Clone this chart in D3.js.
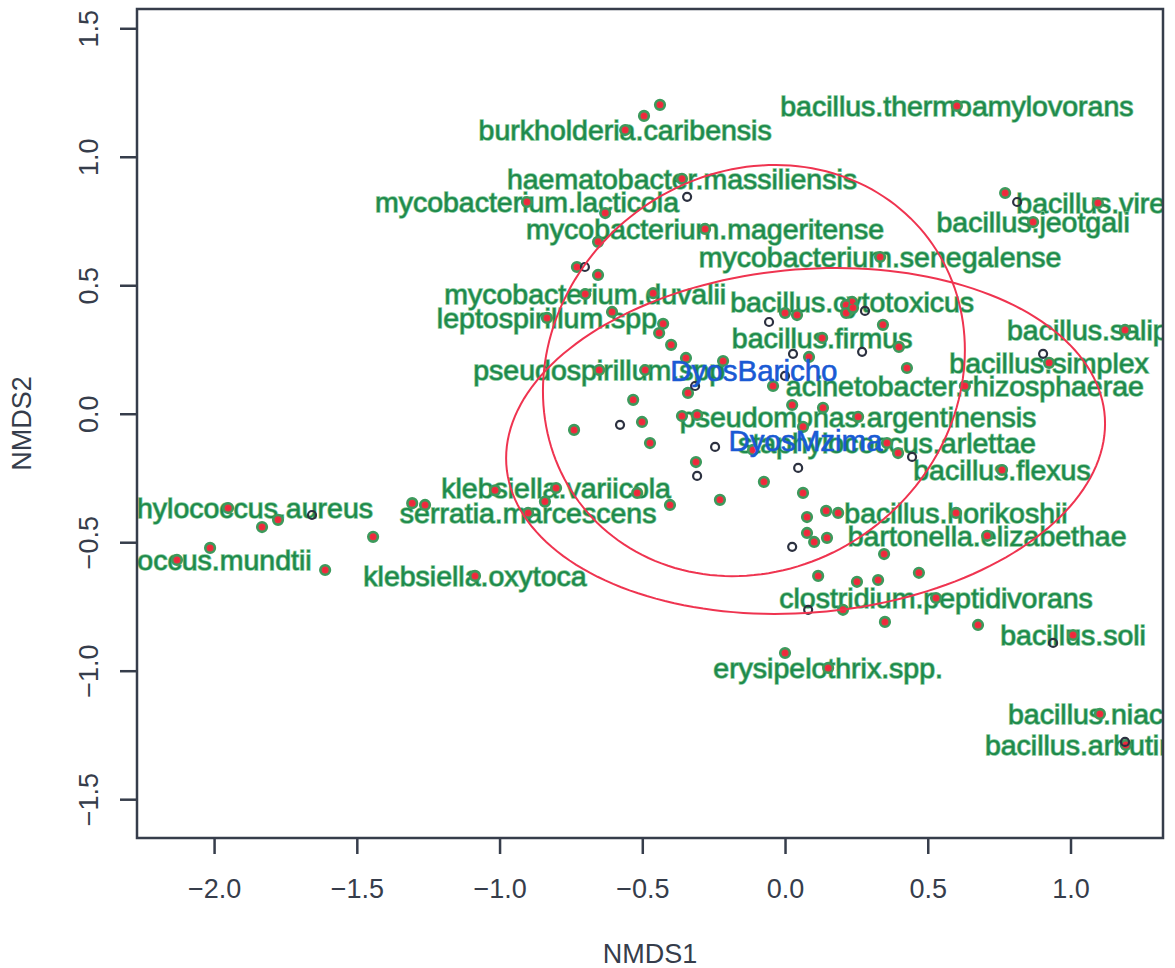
<!DOCTYPE html>
<html>
<head>
<meta charset="utf-8">
<script src="https://cdn.jsdelivr.net/npm/d3@7"></script>
<style>
  html, body { margin: 0; padding: 0; background: #ffffff; }
  svg { display: block; }
  text { font-family: "Liberation Sans", Arial, Helvetica, sans-serif; }
</style>
</head>
<body>
<svg id="chart" width="1175" height="968"></svg>
<script>
// ---- NMDS scores: labelled species ----
const labelNames = [
  "burkholderia.caribensis", "bacillus.thermoamylovorans", "haematobacter.massiliensis",
  "mycobacterium.lacticola", "mycobacterium.mageritense", "mycobacterium.senegalense",
  "bacillus.vireti", "bacillus.jeotgali", "bacillus.cytotoxicus", "bacillus.salipaludis",
  "bacillus.firmus", "bacillus.simplex", "mycobacterium.duvalii", "leptospirillum.spp",
  "pseudospirillum.spp", "acinetobacter.rhizosphaerae", "pseudomonas.argentinensis",
  "staphylococcus.arlettae", "bacillus.flexus", "bacillus.horikoshii", "bartonella.elizabethae",
  "klebsiella.variicola", "serratia.marcescens", "staphylococcus.aureus", "enterococcus.mundtii",
  "klebsiella.oxytoca", "clostridium.peptidivorans", "bacillus.soli", "erysipelothrix.spp.",
  "bacillus.niacini", "bacillus.arbutinivorans"
];
const labelX = [
  -0.560, 0.602, -0.361, -0.904, -0.280, 0.333, 1.096, 0.869, 0.235, 1.191,
  0.130, 0.925, -0.700, -0.834, -0.651, 0.630, 0.256, 0.357, 0.760, 0.599, 0.708,
  -0.802, -0.900, -1.951, -2.130, -1.086, 0.529, 1.009, 0.151, 1.103, 1.194
];
const labelY = [
  1.104, 1.198, 0.914, 0.824, 0.719, 0.610, 0.820, 0.746, 0.435, 0.326,
  0.295, 0.198, 0.466, 0.373, 0.170, 0.108, -0.012, -0.114, -0.219, -0.386, -0.475,
  -0.289, -0.386, -0.367, -0.569, -0.631, -0.717, -0.861, -0.989, -1.168, -1.289
];

// ---- NMDS scores: remaining species ----
const otherX = [
  -0.438, -0.494, -0.630, -0.655, -0.729, -0.655, 0.771, -0.606, -0.462, -0.427,
  -0.441, -0.399, -0.347, -0.217, 0.000, 0.042, 0.214, 0.214, 0.238, 0.343,
  0.084, 0.399, 0.427, -0.042, 0.025, 0.133, 0.063, -0.490, -0.340, -0.532,
  -0.501, -0.739, -0.473, -0.361, -0.308, -0.312, 0.396, -0.112, -0.074, -0.228,
  -0.403, 0.063, 0.077, 0.144, 0.186, 0.077, 0.102, 0.147, 0.347, 0.116,
  0.252, 0.326, 0.469, 0.203, 0.350, 0.676, 0.000, -0.518, -0.841, -1.016,
  -1.261, -1.306, -1.832, -1.776, -2.014, -1.443, -1.611
];
const otherY = [
  1.202, 1.159, 0.781, 0.669, 0.571, 0.540, 0.859, 0.396, 0.469, 0.350,
  0.314, 0.268, 0.217, 0.205, 0.392, 0.384, 0.423, 0.392, 0.412, 0.346,
  0.221, 0.260, 0.178, 0.108, 0.034, 0.023, -0.051, 0.170, 0.081, 0.054,
  -0.032, -0.063, -0.114, -0.009, -0.005, -0.188, -0.153, -0.141, -0.265, -0.335,
  -0.355, -0.308, -0.402, -0.378, -0.386, -0.464, -0.499, -0.483, -0.546, -0.631,
  -0.654, -0.647, -0.619, -0.763, -0.810, -0.822, -0.931, -0.308, -0.342, -0.298,
  -0.355, -0.348, -0.441, -0.413, -0.522, -0.479, -0.608
];

// ---- NMDS scores: sites ----
const siteX = [
  -0.343, -0.701, -0.056, 0.028, 0.270, 0.280, 0.000, -0.315, -0.578, -0.245,
  -0.308, 0.046, 0.445, 0.025, 0.081, 0.904, 0.813, 0.939, -1.657, 1.191
];
const siteY = [
  0.844, 0.571, 0.357, 0.233, 0.241, 0.400, 0.147, 0.108, -0.043, -0.129,
  -0.242, -0.211, -0.168, -0.518, -0.763, 0.233, 0.824, -0.892, -0.394, -1.277
];

// ---- group ellipses (centre, spread along each axis, correlation) ----
const groupNames = ["DyosBaricho", "DyosMzima"];
const groupCX = [-0.109, 0.072];
const groupCY = [0.168, -0.106];
const groupSX = [0.739, 1.049];
const groupSY = [0.800, 0.673];
const groupR  = [0.10, 0.10];

// ---- axes ----
const xTicks = [-2.0, -1.5, -1.0, -0.5, 0.0, 0.5, 1.0];
const yTicks = [-1.5, -1.0, -0.5, 0.0, 0.5, 1.0, 1.5];
const xTitle = "NMDS1";
const yTitle = "NMDS2";

// ---- layout ----
const plot = { left: 137, right: 1163, top: 9, bottom: 838 };
const axisColor = "#363d4b";
const textGreen = "#1f8a4c";

const svg = d3.select("#chart");
const x = d3.scaleLinear().domain([-2.27, 1.324]).range([plot.left, plot.right]);
const y = d3.scaleLinear().domain([-1.651, 1.575]).range([plot.bottom, plot.top]);

svg.append("defs").append("clipPath").attr("id", "plotClip")
  .append("rect")
  .attr("x", plot.left).attr("y", plot.top)
  .attr("width", plot.right - plot.left).attr("height", plot.bottom - plot.top);

const inner = svg.append("g").attr("clip-path", "url(#plotClip)");

// species labels
inner.append("g").selectAll("text")
  .data(labelNames)
  .join("text")
  .attr("x", (d, i) => x(labelX[i]))
  .attr("y", (d, i) => y(labelY[i]))
  .attr("dy", "0.35em")
  .attr("text-anchor", "middle")
  .attr("font-size", 28.5)
  .attr("fill", textGreen)
  .attr("stroke", "#79c592")
  .attr("stroke-width", 1.4)
  .attr("paint-order", "stroke")
  .text(d => d);

// species points: green ring with red centre
const speciesPts = labelX.map((v, i) => [v, labelY[i]])
  .concat(otherX.map((v, i) => [v, otherY[i]]));
const sp = inner.append("g");
sp.selectAll("circle.ring")
  .data(speciesPts)
  .join("circle")
  .attr("class", "ring")
  .attr("cx", d => x(d[0])).attr("cy", d => y(d[1]))
  .attr("r", 4.8)
  .attr("fill", "#e8333f")
  .attr("stroke", "#3c9a5c")
  .attr("stroke-width", 2.6);
sp.selectAll("circle.dot")
  .data(speciesPts)
  .join("circle")
  .attr("class", "dot")
  .attr("cx", d => x(d[0])).attr("cy", d => y(d[1]))
  .attr("r", 2.4)
  .attr("fill", "#f0283c");

// sites: open dark circles
inner.append("g").selectAll("circle")
  .data(siteX)
  .join("circle")
  .attr("cx", (d, i) => x(d)).attr("cy", (d, i) => y(siteY[i]))
  .attr("r", 4)
  .attr("fill", "none")
  .attr("stroke", "#2c3140")
  .attr("stroke-width", 2.2);

// group ellipses
const line = d3.line().curve(d3.curveLinearClosed);
const steps = d3.range(0, 2 * Math.PI, Math.PI / 90);
groupNames.forEach((g, k) => {
  const r = groupR[k], q = Math.sqrt(1 - r * r);
  const pts = steps.map(t => [
    x(groupCX[k] + groupSX[k] * Math.cos(t)),
    y(groupCY[k] + groupSY[k] * (r * Math.cos(t) + q * Math.sin(t)))
  ]);
  inner.append("path")
    .attr("d", line(pts))
    .attr("fill", "none")
    .attr("stroke", "#ef3450")
    .attr("stroke-width", 2);
});

// group labels at centroids
inner.append("g").selectAll("text")
  .data(groupNames)
  .join("text")
  .attr("x", (d, i) => x(groupCX[i]))
  .attr("y", (d, i) => y(groupCY[i]))
  .attr("dy", "0.35em")
  .attr("text-anchor", "middle")
  .attr("font-size", 29.5)
  .attr("fill", "#1a5ad4")
  .attr("stroke", "#1a5ad4")
  .attr("stroke-width", 0.6)
  .text(d => d);

// frame
svg.append("rect")
  .attr("x", plot.left).attr("y", plot.top)
  .attr("width", plot.right - plot.left).attr("height", plot.bottom - plot.top)
  .attr("fill", "none")
  .attr("stroke", axisColor)
  .attr("stroke-width", 2.5);

// x axis
const gx = svg.append("g")
  .attr("transform", `translate(0,${plot.bottom})`)
  .call(d3.axisBottom(x).tickValues(xTicks).tickFormat(d3.format(".1f"))
    .tickSize(16).tickPadding(25));
gx.select(".domain").remove();
gx.selectAll(".tick line").attr("stroke", axisColor).attr("stroke-width", 2.5);
gx.selectAll(".tick text")
  .attr("font-size", 27).attr("fill", axisColor)
  .attr("font-family", "'Liberation Sans', Arial, sans-serif");

// y axis (labels parallel to the axis)
const gy = svg.append("g")
  .attr("transform", `translate(${plot.left},0)`)
  .call(d3.axisLeft(y).tickValues(yTicks).tickFormat(d3.format(".1f")).tickSize(17));
gy.select(".domain").remove();
gy.selectAll(".tick line").attr("stroke", axisColor).attr("stroke-width", 2.5);
gy.selectAll(".tick text")
  .attr("transform", "rotate(-90)")
  .attr("x", 0).attr("y", -39).attr("dy", 0)
  .attr("text-anchor", "middle")
  .attr("font-size", 27).attr("fill", axisColor)
  .attr("font-family", "'Liberation Sans', Arial, sans-serif");

// axis titles
svg.append("text")
  .attr("x", (plot.left + plot.right) / 2).attr("y", 963)
  .attr("text-anchor", "middle")
  .attr("font-size", 27).attr("fill", axisColor)
  .text(xTitle);
svg.append("text")
  .attr("transform", `translate(31,${(plot.top + plot.bottom) / 2}) rotate(-90)`)
  .attr("text-anchor", "middle")
  .attr("font-size", 27).attr("fill", axisColor)
  .text(yTitle);
</script>
</body>
</html>
